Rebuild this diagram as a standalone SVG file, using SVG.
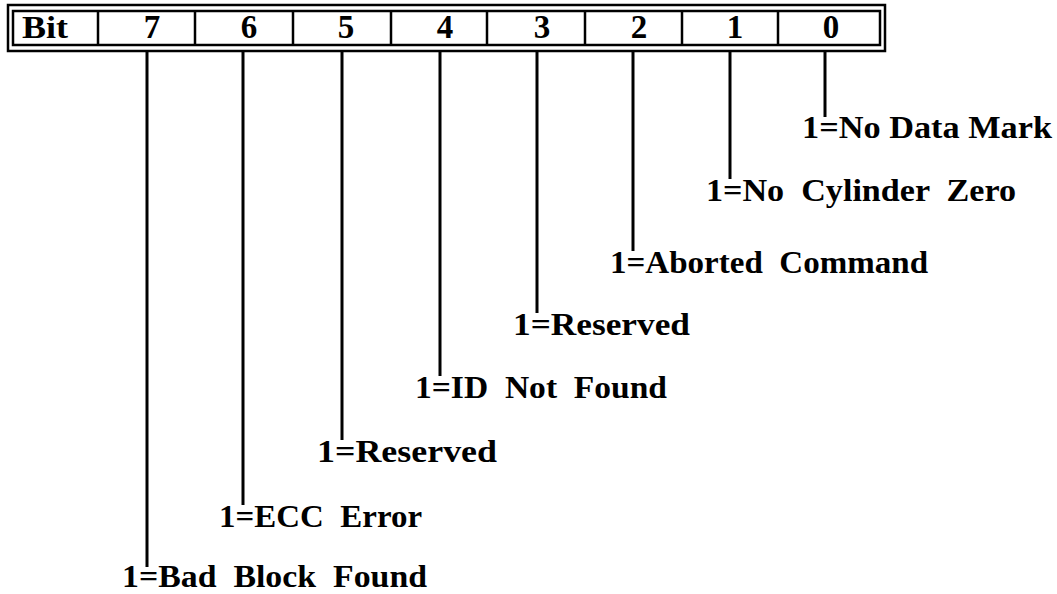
<svg xmlns="http://www.w3.org/2000/svg" width="1057" height="594" viewBox="0 0 1057 594">
<style>
.t{font-family:"Liberation Serif","Times New Roman",serif;font-weight:bold;font-size:32px;fill:#000;white-space:pre}
.h{font-family:"Liberation Serif","Times New Roman",serif;font-weight:bold;font-size:33px;fill:#000;text-anchor:middle}
.f{fill:none;stroke:#000}
.c{stroke:#000;stroke-width:3;fill:none}
</style>
<rect width="1057" height="594" fill="#fff"/>
<g id="register">
<rect class="f" x="8" y="5" width="877" height="46" stroke-width="2.5"/>
<rect class="f" x="13" y="11" width="867" height="34" stroke-width="2.5"/>
<g stroke="#000" stroke-width="2.5">
<line x1="98" y1="11" x2="98" y2="45"/>
<line x1="195" y1="11" x2="195" y2="45"/>
<line x1="293" y1="11" x2="293" y2="45"/>
<line x1="391" y1="11" x2="391" y2="45"/>
<line x1="487" y1="11" x2="487" y2="45"/>
<line x1="585" y1="11" x2="585" y2="45"/>
<line x1="682" y1="11" x2="682" y2="45"/>
<line x1="778" y1="11" x2="778" y2="45"/>
</g>
<text class="t" x="22" y="38" font-size="33" textLength="46" lengthAdjust="spacingAndGlyphs">Bit</text>
<text class="h" x="152" y="38">7</text>
<text class="h" x="249" y="38">6</text>
<text class="h" x="346" y="38">5</text>
<text class="h" x="445" y="38">4</text>
<text class="h" x="542" y="38">3</text>
<text class="h" x="639" y="38">2</text>
<text class="h" x="735" y="38">1</text>
<text class="h" x="831" y="38">0</text>
</g>
<g id="connectors">
<line class="c" x1="825" y1="51" x2="825" y2="117"/>
<line class="c" x1="730" y1="51" x2="730" y2="179"/>
<line class="c" x1="633" y1="51" x2="633" y2="251"/>
<line class="c" x1="537" y1="51" x2="537" y2="313"/>
<line class="c" x1="440" y1="51" x2="440" y2="376"/>
<line class="c" x1="342" y1="51" x2="342" y2="440"/>
<line class="c" x1="243" y1="51" x2="243" y2="505"/>
<line class="c" x1="147" y1="51" x2="147" y2="567"/>
</g>
<g id="bit0"><text class="t" x="802" y="138" textLength="250" lengthAdjust="spacingAndGlyphs">1=No Data Mark</text></g>
<g id="bit1"><text class="t" x="706" y="201" textLength="310" lengthAdjust="spacingAndGlyphs">1=No  Cylinder  Zero</text></g>
<g id="bit2"><text class="t" x="610" y="273" textLength="318" lengthAdjust="spacingAndGlyphs">1=Aborted  Command</text></g>
<g id="bit3"><text class="t" x="513" y="335" textLength="177" lengthAdjust="spacingAndGlyphs">1=Reserved</text></g>
<g id="bit4"><text class="t" x="415" y="398" textLength="252" lengthAdjust="spacingAndGlyphs">1=ID  Not  Found</text></g>
<g id="bit5"><text class="t" x="317" y="462" textLength="180" lengthAdjust="spacingAndGlyphs">1=Reserved</text></g>
<g id="bit6"><text class="t" x="219" y="527" textLength="203" lengthAdjust="spacingAndGlyphs">1=ECC  Error</text></g>
<g id="bit7"><text class="t" x="122" y="587" textLength="305" lengthAdjust="spacingAndGlyphs">1=Bad  Block  Found</text></g>
</svg>
